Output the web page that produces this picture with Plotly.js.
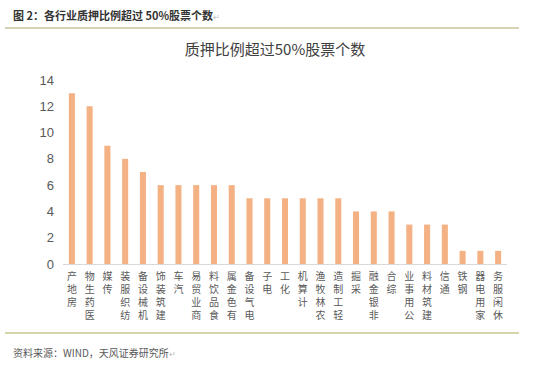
<!DOCTYPE html>
<html>
<head>
<meta charset="utf-8">
<script src="https://cdn.plot.ly/plotly-3.0.1.min.js"></script>
<style>html,body{margin:0;padding:0;background:#fff;}#chart{width:550px;height:365px;}</style>
</head>
<body>
<div id="chart"></div>
<script>
var categories = ["房地产","医药生物","传媒","纺织服装","机械设备","建筑装饰","汽车","商业贸易","食品饮料","有色金属","电气设备","电子","化工","计算机","农林牧渔","轻工制造","采掘","非银金融","综合","公用事业","建筑材料","通信","钢铁","家用电器","休闲服务"];
var counts = [13,12,9,8,7,6,6,6,6,6,5,5,5,5,5,5,4,4,4,3,3,3,1,1,1];
var yTicks = [0,2,4,6,8,10,12,14];
var headerText = "图 2：各行业质押比例超过 50%股票个数";
var chartTitle = "质押比例超过50%股票个数";
var sourceText = "资料来源：WIND，天风证券研究所";

// Vertical, upright characters reading bottom-to-top
var tickText = categories.map(function(c){ return c.split("").reverse().join("<br>"); });

var W = 550, H = 365, L = 63, R = 43, T = 80, B = 101;
var pw = W - L - R, ph = H - T - B;
function px2x(x){ return (x - L) / pw; }
function px2y(y){ return (H - B - y) / ph; }

var trace = {
  type: "bar",
  x: categories,
  y: counts,
  marker: {color: "#F4B183"},
  hoverinfo: "x+y"
};

var layout = {
  width: W, height: H,
  margin: {l: L, r: R, t: T, b: B},
  paper_bgcolor: "#ffffff",
  plot_bgcolor: "#ffffff",
  bargap: 0.66,
  showlegend: false,
  font: {family: "'Noto Sans CJK SC', 'Liberation Sans', sans-serif", color: "#595959"},
  title: {
    text: chartTitle,
    x: 0.5, xanchor: "center",
    y: 1 - 50/H, yanchor: "middle",
    font: {family: "'Noto Sans CJK SC', sans-serif", size: 15, color: "#404040"}
  },
  xaxis: {
    type: "category",
    tickmode: "array",
    tickvals: categories,
    ticktext: tickText,
    tickangle: 0,
    ticks: "",
    showline: true,
    linecolor: "#D9D9D9",
    linewidth: 1,
    showgrid: false,
    zeroline: false,
    ticklabelstandoff: 3,
    tickfont: {family: "'Noto Sans CJK SC', sans-serif", size: 10, color: "#595959"}
  },
  yaxis: {
    range: [0, 14],
    tickmode: "array",
    tickvals: yTicks,
    ticktext: yTicks.map(String),
    showgrid: false,
    zeroline: false,
    showline: false,
    ticks: "",
    ticklabelstandoff: 8,
    tickfont: {family: "'Liberation Sans', Arial, sans-serif", size: 13, color: "#595959"}
  },
  shapes: [
    {type: "line", xref: "paper", yref: "paper", x0: px2x(5), x1: px2x(519), y0: px2y(28), y1: px2y(28),
     line: {color: "#C9C39B", width: 1.5}},
    {type: "line", xref: "paper", yref: "paper", x0: px2x(5), x1: px2x(519), y0: px2y(333), y1: px2y(333),
     line: {color: "#C8C78E", width: 1.5}}
  ],
  annotations: [
    {text: "<b>" + headerText + "</b><span style='color:#bbbbbb;font-size:8px'>↵</span>", xref: "paper", yref: "paper",
     x: px2x(11), y: px2y(15), xanchor: "left", yanchor: "middle", showarrow: false,
     font: {family: "'Noto Sans CJK SC', sans-serif", size: 11, color: "#333333"}},
    {text: sourceText + "<span style='color:#bbbbbb;font-size:8px'>↵</span>", xref: "paper", yref: "paper",
     x: px2x(11), y: px2y(352), xanchor: "left", yanchor: "middle", showarrow: false,
     font: {family: "'Noto Sans CJK SC', sans-serif", size: 10, color: "#595959"}}
  ]
};

Plotly.newPlot("chart", [trace], layout, {displayModeBar: false, staticPlot: true});
</script>
</body>
</html>
